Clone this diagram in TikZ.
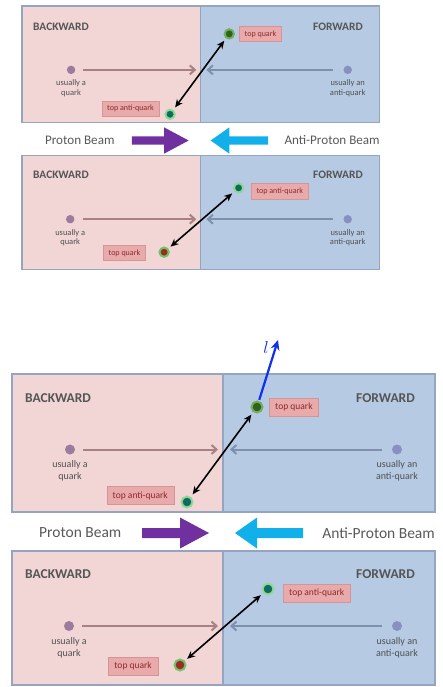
\documentclass[tikz,border=0pt]{standalone}
\usepackage{fontspec}
\setmainfont{Carlito}
\usetikzlibrary{arrows.meta}

\definecolor{pinkpanel}{HTML}{F2D6D6}
\definecolor{bluepanel}{HTML}{B7CAE3}
\definecolor{panelborder}{HTML}{93A5C0}
\definecolor{lblfill}{HTML}{E8AAAA}
\definecolor{lbldraw}{HTML}{D69494}
\definecolor{lbltext}{HTML}{8E2A2A}
\definecolor{quarkdot}{HTML}{9C7C9E}
\definecolor{antidot}{HTML}{8890C2}
\definecolor{quarkline}{HTML}{A88282}
\definecolor{antiline}{HTML}{7F90AC}
\definecolor{tgreen}{HTML}{2F621C}
\definecolor{tglow}{HTML}{74AE5E}
\definecolor{ateal}{HTML}{0F6B5C}
\definecolor{aglow}{HTML}{8ED89A}
\definecolor{tred}{HTML}{A02A20}
\definecolor{rglow}{HTML}{6CC46C}
\definecolor{sidegray}{HTML}{555555}
\definecolor{smallgray}{HTML}{505050}
\definecolor{beamgray}{HTML}{595959}
\definecolor{pbeam}{HTML}{7030A0}
\definecolor{abeam}{HTML}{12B0EA}
\definecolor{lblue}{HTML}{1030F0}

\tikzset{
  panelL/.style={fill=pinkpanel, draw=panelborder, line width=1.2pt},
  panelR/.style={fill=bluepanel, draw=panelborder, line width=1.2pt},
  side/.style={font=\bfseries\fontsize{13.5}{15}\selectfont, text=sidegray, inner sep=0pt},
  smalltxt/.style={font=\fontsize{10}{11.5}\selectfont, text=smallgray, align=center, inner sep=0pt},
  lbl/.style={fill=lblfill, draw=lbldraw, text=lbltext, font=\fontsize{9.5}{11}\selectfont,
              minimum height=18pt, inner xsep=6pt, inner ysep=0pt},
  hadron/.style={circle, inner sep=0pt, minimum size=10pt},
  topdot/.style={circle, inner sep=0pt, minimum size=11pt, line width=2pt},
  pairarrow/.style={{Stealth[length=8pt,width=7pt]}-{Stealth[length=8pt,width=7pt]},
              line width=1.6pt, shorten >=3pt, shorten <=3pt},
  qarrow/.style={-{Straight Barb[length=5pt,width=9pt]}, line width=2pt, color=quarkline},
  aarrow/.style={-{Straight Barb[length=5pt,width=9pt]}, line width=2pt, color=antiline},
  beamtxt/.style={font=\fontsize{15.5}{17}\selectfont, text=beamgray, inner sep=0pt},
}

\newcommand\drawdiagram{%
  % ---------- upper panel ----------
  \path[panelL] (0,0) rectangle (211,138);
  \path[panelR] (211,0) rectangle (423,138);
  \node[side, anchor=west] (ub) at (13,24) {BACKWARD};
  \node[side, anchor=east] (uf) at (403,24) {FORWARD};
  \node[hadron, fill=quarkdot] (uq) at (58,75.5) {};
  \node[smalltxt] (uqt) at (58,97) {usually a\\quark};
  \node[hadron, fill=antidot] (ua) at (385,75.5) {};
  \node[smalltxt] (uat) at (385,97) {usually an\\anti-quark};
  \coordinate (uqe) at (206,75.5);
  \coordinate (uae) at (218,75.5);
  \draw[qarrow, shorten <=8pt] (uq) -- (uqe);
  \draw[aarrow, shorten <=10pt] (ua) -- (uae);
  \node[topdot, fill=tgreen, draw=tglow] (utq) at (245,33) {};
  \node[lbl, anchor=west] (utql) at (257,33) {top quark};
  \node[topdot, fill=ateal, draw=aglow] (uaq) at (175,128) {};
  \node[lbl, anchor=east] (uaql) at (162,121.5) {top anti-quark};
  \draw[pairarrow] (utq) -- (uaq);
  % ---------- beams ----------
  \node[beamtxt, anchor=west] (pb) at (27,159) {Proton Beam};
  \node[beamtxt, anchor=east] (ab) at (423,159) {Anti-Proton Beam};
  \fill[pbeam] (130,154) -- (168,154) -- (168,143.5) -- (197,159) -- (168,174.5)
     -- (168,164) -- (130,164) -- cycle;
  \fill[abeam] (223,159) -- (245,143.5) -- (245,154) -- (291,154) -- (291,164)
     -- (245,164) -- (245,174.5) -- cycle;
  % ---------- lower panel ----------
  \path[panelL] (0,177) rectangle (211,311);
  \path[panelR] (211,177) rectangle (423,311);
  \node[side, anchor=west] (lb) at (13,200) {BACKWARD};
  \node[side, anchor=east] (lf) at (403,200) {FORWARD};
  \node[hadron, fill=quarkdot] (lq) at (57,252) {};
  \node[smalltxt] (lqt) at (57,274) {usually a\\quark};
  \node[hadron, fill=antidot] (la) at (385,252) {};
  \node[smalltxt] (lat) at (385,274) {usually an\\anti-quark};
  \coordinate (lqe) at (206,252);
  \coordinate (lae) at (218,252);
  \draw[qarrow, shorten <=8pt] (lq) -- (lqe);
  \draw[aarrow, shorten <=10pt] (la) -- (lae);
  \node[topdot, fill=ateal, draw=aglow] (laq) at (256,215) {};
  \node[lbl, anchor=west] (laql) at (271,219) {top anti-quark};
  \node[topdot, fill=tred, draw=rglow] (ltq) at (168,291) {};
  \node[lbl, anchor=east] (ltql) at (146,292) {top quark};
  \draw[pairarrow] (laq) -- (ltq);
}

\begin{document}
\begin{tikzpicture}[x=1pt, y=-1pt]
  \useasboundingbox[fill=white] (0,0) rectangle (443,687);
  % small upper copy
  \begin{scope}[shift={(22,6)}, scale=0.846, transform shape, name prefix=s-]
    \drawdiagram
  \end{scope}
  % large lower copy with the lepton arrow
  \begin{scope}[shift={(12,374)}, name prefix=b-]
    \drawdiagram
    \coordinate (lt) at (266,-34);
    \draw[-{Stealth[length=10pt,width=9pt]}, line width=2.2pt, lblue, shorten <=1pt] (utq) -- (lt);
    \node[text=lblue, inner sep=0pt, font=\fontsize{17}{17}\selectfont] (ll) at (254,-27) {$l$};
  \end{scope}
\end{tikzpicture}
\end{document}
